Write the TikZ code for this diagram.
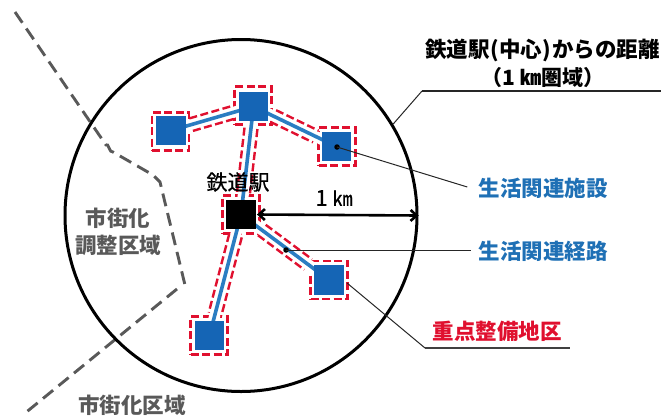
\documentclass[tikz,border=0pt]{standalone}
\usepackage{fontspec}
\setmainfont{Noto Sans CJK JP}
\newfontfamily\medfont[FakeBold=0.5]{Noto Sans CJK JP}
\usetikzlibrary{calc,backgrounds,arrows.meta}
\definecolor{sqblue}{HTML}{1565B5}
\definecolor{lnblue}{HTML}{2A7DC2}
\definecolor{txblue}{HTML}{1F70B5}
\definecolor{myred}{HTML}{E0102F}
\definecolor{mygray}{HTML}{595959}
\tikzset{
  facility/.style={draw=none,fill=sqblue,minimum width=29.5pt,minimum height=29.5pt,inner sep=0},
  station/.style={facility,fill=black},
  zonebox/.style={draw=myred,line width=2.4pt,dash pattern=on 8pt off 3.5pt,minimum width=37pt,minimum height=38pt,inner sep=0},
  zoneline/.style={draw=myred,line width=2.4pt,dash pattern=on 8pt off 3.5pt},
  route/.style={draw=lnblue,line width=3.6pt},
  leader/.style={draw=black!85,line width=1pt},
  label/.style={inner sep=0,font=\fontsize{21.5}{24}\selectfont\bfseries,anchor=center},
  dotmark/.style={circle,fill=black,inner sep=0,minimum size=5.5pt},
  boundary/.style={draw=mygray,line width=2.9pt,dash pattern=on 13pt off 7pt}
}
\begin{document}
\begin{tikzpicture}[x=1pt,y=-1pt]
\useasboundingbox (0,0) rectangle (661,416);
% station and facilities
\node[station]  (st) at (241,214.5) {};
\node[facility] (a) at (171,130.5) {};
\node[facility] (b) at (253.5,106.5) {};
\node[facility] (c) at (336.5,146.5) {};
\node[facility] (d) at (329,280) {};
\node[facility] (e) at (209.5,335.5) {};
% circle
\node[draw=black,line width=3pt,circle,minimum size=352pt,inner sep=0] (ring) at (241,215.5) {};
\begin{scope}[on background layer]
  % area boundary
  \coordinate (p1) at (15,12);
  \coordinate (p2) at (106,145);
  \coordinate (p3) at (113,152);
  \coordinate (p4) at (153,175);
  \coordinate (p5) at (160,182);
  \coordinate (p6) at (185,285);
  \coordinate (p7) at (177,289);
  \coordinate (p8) at (24,414);
  \draw[boundary] (p1) -- (p2) to[out=55,in=205] (p3) -- (p4) -- (p5) -- (p6);
  \draw[boundary] (p7) -- (p8);
  % red boxes
  \node[zonebox] (ra) at (170.5,131.5) {};
  \node[zonebox] (rb) at (253,105.5) {};
  \node[zonebox] (rc) at (337,146.5) {};
  \node[zonebox] (rd) at (329,280) {};
  \node[zonebox] (re) at (209,335.5) {};
  \node[zonebox] (rs) at (241,214.5) {};
  \foreach \u/\v/\su/\sv in {a/b/21/22, b/st/22/22, b/c/22/23, st/d/26/26, st/e/22/22}{
    \draw[white,line width=11pt] (\u.center) -- (\v.center);
    \draw[zoneline,shorten <=\su pt,shorten >=\sv pt] ($(\u.center)!6.5pt!90:(\v.center)$) -- ($(\v.center)!6.5pt!-90:(\u.center)$);
    \draw[zoneline,shorten <=\su pt,shorten >=\sv pt] ($(\u.center)!6.5pt!-90:(\v.center)$) -- ($(\v.center)!6.5pt!90:(\u.center)$);
    \draw[route] (\u.center) -- (\v.center);
  }
\end{scope}
% distance arrow
\draw[line width=2.6pt,{Straight Barb[length=6pt,width=11pt]}-{Straight Barb[length=6pt,width=11pt]}] (st.east) ++(1,0) -- (ring.east);
% labels
\node[label,font=\fontsize{21}{24}\selectfont\medfont] (lst) at (238,182) {鉄道駅};
\node[label,font=\fontsize{22}{24}\selectfont\medfont] (lkm) at (334,198) {1 {\fontsize{20}{24}\selectfont ㎞}};
\node[label] (t1) at (542.5,50) {鉄道駅\hspace{1pt}(中心)\hspace{1pt}からの距離};
\node[label,font=\fontsize{21}{24}\selectfont\bfseries] (t2) at (543,78) {（1 ㎞圏域）};
\node[label,text=txblue] (lfac) at (543,188) {生活関連施設};
\node[label,text=txblue] (lrt) at (543,251) {生活関連経路};
\node[label,text=myred] (lzn) at (497,331) {重点整備地区};
\node[label,text=mygray] (u1) at (118,218) {市街化};
\node[label,text=mygray] (u2) at (118,245) {調整区域};
\node[label,text=mygray] (u3) at (132,405) {市街化区域};
% leaders
\node[dotmark] (dc) at (337,147) {};
\draw[leader] (dc.center) -- ($(lfac.west)+(-11,-1)$);
\node[dotmark] (dr) at (286,250) {};
\draw[leader] (dr.center) -- ($(lrt.west)+(-7,-1)$);
\coordinate (z1) at (425,348);
\coordinate (z2) at (570,348);
\draw[leader] (rd.center) ++(18,3) -- (z1);
\draw[draw=black!75,line width=1.6pt] (z1) -- (z2);
\coordinate (r1) at (422,91);
\coordinate (r2) at (661,91);
\draw[leader] (ring.31) -- (r1);
\draw[draw=black!85,line width=1.4pt] (r1) -- (r2);
\end{tikzpicture}
\end{document}
